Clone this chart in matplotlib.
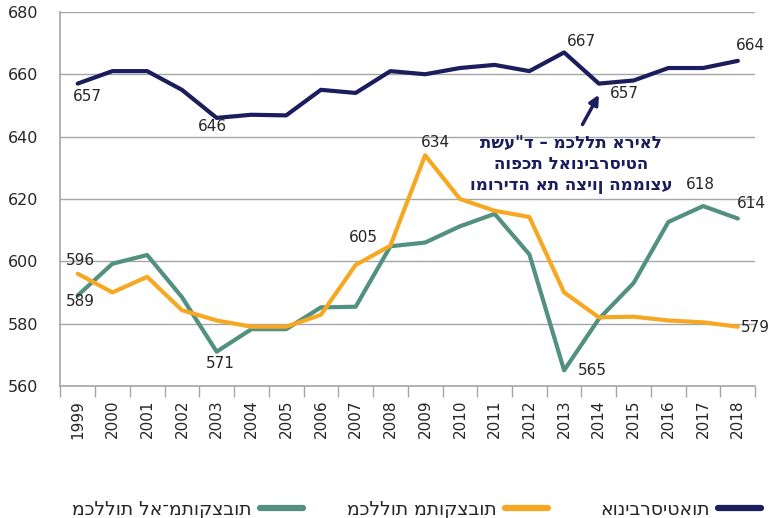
import matplotlib
matplotlib.use('Agg')
import matplotlib.pyplot as plt

years = list(range(1999, 2019))
universities = [657, 661, 661, 655, 646, 647, 646.8, 655, 654, 661,
                660, 662, 663, 661, 667, 657, 658, 662, 662, 664.3]
budgeted = [596, 590, 595, 584.3, 581, 579, 579, 582.8, 598.8, 605,
            634, 620, 616.2, 614.2, 590, 582, 582.2, 581, 580.4, 579]
non_budgeted = [589, 599.2, 602, 588.5, 571, 578.2, 578.2, 585.2, 585.4, 604.8,
                606, 611.2, 615.2, 602.2, 565, 581.5, 593, 612.6, 617.7, 613.7]

name_uni = 'אוניברסיטאות'
name_bud = 'מכללות מתוקצבות'
name_non = 'מכללות לא־מתוקצבות'
note_lines = ['תשע"ד – מכללת אריאל', 'הופכת לאוניברסיטה', 'ומורידה את הציון הממוצע']

c_uni, c_bud, c_non = '#1b1d5c', '#f7a823', '#52907f'
grid_c = '#a6a6a6'
txt_c = '#262626'

fig = plt.figure(figsize=(7.73, 5.18), dpi=100)
ax = fig.add_axes([0.078, 0.255, 0.899, 0.722])

x = list(range(len(years)))
l_non, = ax.plot(x, non_budgeted, color=c_non, lw=3, solid_capstyle='round')
l_bud, = ax.plot(x, budgeted, color=c_bud, lw=3, solid_capstyle='round')
l_uni, = ax.plot(x, universities, color=c_uni, lw=3, solid_capstyle='round')

ax.set_xlim(-0.5, len(years) - 0.5)
ax.set_ylim(560, 680)
ax.set_yticks(range(560, 681, 20))
ax.yaxis.grid(True, color=grid_c, lw=1)
ax.set_axisbelow(True)
for s in ['top', 'right']:
    ax.spines[s].set_visible(False)
for s in ['left', 'bottom']:
    ax.spines[s].set_color(grid_c)
    ax.spines[s].set_linewidth(1.2)
ax.tick_params(axis='y', length=0, labelsize=11.5, colors=txt_c, pad=16)

ax.set_xticks(x)
ax.set_xticklabels([str(y) for y in years], rotation=90, fontsize=11, color=txt_c)
ax.tick_params(axis='x', length=0, pad=10)
ax.set_xticks([i - 0.5 for i in range(len(years) + 1)], minor=True)
ax.tick_params(axis='x', which='minor', length=8, color=grid_c, width=1)

# value labels (x index, y value, text)
labels = [
    (0.27, 653.0, '657'), (3.88, 643.1, '646'), (14.5, 670.5, '667'),
    (15.73, 653.9, '657'), (19.35, 669.1, '664'),
    (0.09, 600.3, '596'), (0.09, 587.0, '589'), (4.1, 567.2, '571'),
    (8.22, 607.6, '605'), (10.29, 638.0, '634'), (14.8, 565.1, '565'),
    (17.91, 624.5, '618'), (19.4, 618.4, '614'), (19.5, 578.6, '579'),
]
for lx, ly, s in labels:
    ax.text(lx, ly, s, ha='center', va='center', fontsize=11, color=txt_c)

# arrow + note
ax.annotate('', xy=(15.04, 654.2), xytext=(14.49, 643.1),
            arrowprops=dict(arrowstyle='-|>', color=c_uni, lw=2.5, mutation_scale=14))
ax.text(14.2, 631.2, '\n'.join(note_lines), ha='center', va='center',
        fontsize=12, fontweight='bold', color=c_uni, linespacing=1.2)

# legend: one entry each, handle to the right of the text
for line, name, xr in [(l_non, name_non, 0.392), (l_bud, name_bud, 0.709), (l_uni, name_uni, 0.985)]:
    leg = fig.legend([line], [name], loc='center right', bbox_to_anchor=(xr, 0.017),
                     frameon=False, markerfirst=False, fontsize=13.5, borderpad=0,
                     borderaxespad=0, handlelength=2.3, handletextpad=0.45)
    leg.get_texts()[0].set_color(txt_c)
    leg.legend_handles[0].set_linewidth(4.5)

plt.savefig('out.png', dpi=100)
